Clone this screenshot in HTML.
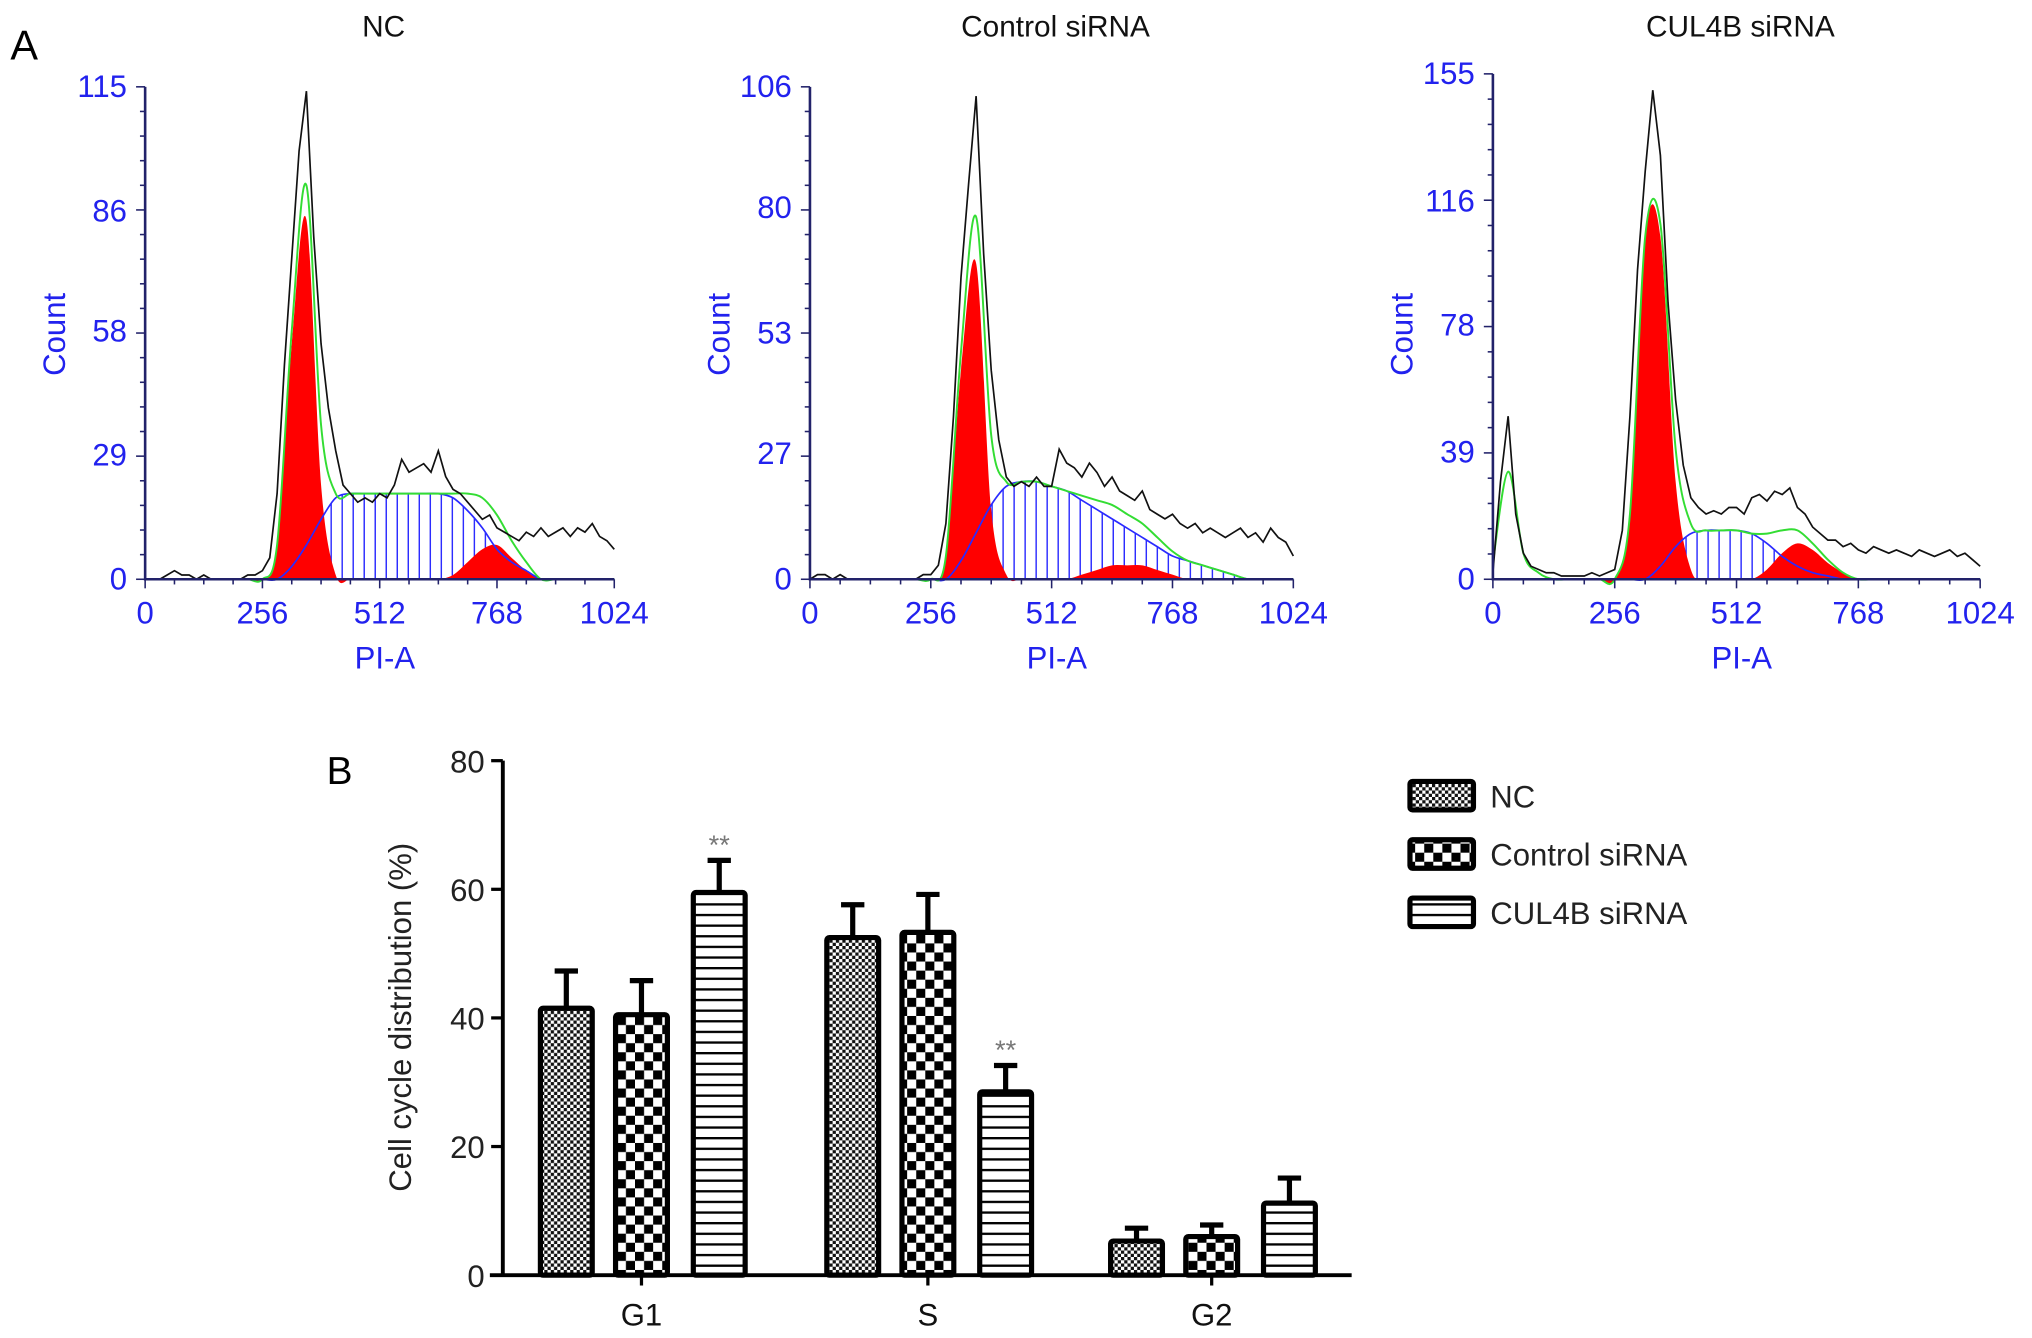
<!DOCTYPE html>
<html><head><meta charset="utf-8"><style>
html,body{margin:0;padding:0;background:#fff;}
svg{display:block;font-family:"Liberation Sans",Arial,sans-serif;}
</style></head><body>
<svg id="fig" width="2032" height="1338" viewBox="0 0 1568 1032.5" preserveAspectRatio="none" xmlns="http://www.w3.org/2000/svg">
<defs>
<pattern id="pFine" width="5" height="5" patternUnits="userSpaceOnUse"><rect width="5" height="5" fill="#fff"/><rect width="2.5" height="2.5" fill="#111"/><rect x="2.5" y="2.5" width="2.5" height="2.5" fill="#111"/></pattern>
<pattern id="pChk" width="14" height="14" patternUnits="userSpaceOnUse"><rect width="14" height="14" fill="#fff"/><rect width="7" height="7" fill="#000"/><rect x="7" y="7" width="7" height="7" fill="#000"/></pattern>
<pattern id="pHor" width="10" height="8.2" patternUnits="userSpaceOnUse"><rect width="10" height="8.2" fill="#fff"/><rect y="0" width="10" height="1.8" fill="#000"/></pattern>
<pattern id="pVert" width="8.5" height="10" patternUnits="userSpaceOnUse"><rect width="8.5" height="10" fill="none"/><rect x="0" width="1.1" height="10" fill="#2a2aff"/></pattern>
</defs>
<text x="8" y="46" font-size="32">A</text>
<text x="252" y="605" font-size="30">B</text>
<g id="hists"></g>
<g id="bars"></g>
</svg>
<script>
// ---- Panel A data (counts; black at 16-channel steps, fits at 32-channel steps) ----
const ncBlack=[0,0,0,1,2,1,1,0,1,0,0,0,0,0,1,1,2,5,20,50,75,100,114,80,55,40,30,22,20,18,19,18,20,19,22,28,25,26,27,25,30,24,21,20,18,16,14,15,12,11,10,9,11,10,12,10,11,12,10,12,11,13,10,9,7];
const ctBlack=[0,1,1,0,1,0,0,0,0,0,0,0,0,0,0,1,1,3,12,35,65,85,104,70,45,30,22,20,21,20,22,20,20,28,25,24,22,25,23,20,22,19,18,17,19,15,14,13,14,12,11,12,10,11,10,9,10,11,9,10,8,11,9,8,5];
const cuBlack=[2,30,50,20,8,4,3,2,2,1,1,1,1,2,1,2,3,15,50,95,125,150,130,85,55,35,25,22,20,21,20,22,22,20,25,26,24,27,26,28,22,20,16,14,12,12,10,11,9,8,10,9,8,9,8,7,9,8,7,8,9,7,8,6,4];
const ncG1=[0,0,0,0,0,0,0,0,0,8,55,84,22,1,0,0,0,0,0,0,0,0,0,0,0,0,0,0,0,0,0,0,0];
const ncS=[0,0,0,0,0,0,0,0,0,0,3,8,14,19,20,20,20,20,20,20,20,19,16,12,7,4,2,0,0,0,0,0,0];
const ncG2=[0,0,0,0,0,0,0,0,0,0,0,0,0,0,0,0,0,0,0,0,0,1,4,7,8,5,2,0,0,0,0,0,0];
const ncDeb=[0,0,0,0,0,0,0,0,0,0,0,0,0,0,0,0,0,0,0,0,0,0,0,0,0,0,0,0,0,0,0,0,0];
const ctG1=[0,0,0,0,0,0,0,0,0,5,45,68,15,1,0,0,0,0,0,0,0,0,0,0,0,0,0,0,0,0,0,0,0];
const ctS=[0,0,0,0,0,0,0,0,0,0,4,10,16,20,21,21,20,19,17,15,13,11,9,7,5,4,3,2,1,0,0,0,0];
const ctG2=[0,0,0,0,0,0,0,0,0,0,0,0,0,0,0,0,0,0,1,2,3,3,3,2,1,0,0,0,0,0,0,0,0];
const ctDeb=[0,0,0,0,0,0,0,0,0,0,0,0,0,0,0,0,0,0,0,0,0,0,0,0,0,0,0,0,0,0,0,0,0];
const cuG1=[0,0,0,0,0,0,0,0,0,20,105,105,30,3,0,0,0,0,0,0,0,0,0,0,0,0,0,0,0,0,0,0,0];
const cuS=[0,0,0,0,0,0,0,0,0,0,0,4,10,14,15,15,15,14,11,7,4,2,1,0,0,0,0,0,0,0,0,0,0];
const cuG2=[0,0,0,0,0,0,0,0,0,0,0,0,0,0,0,0,0,0,3,8,11,9,5,2,0,0,0,0,0,0,0,0,0];
const cuDeb=[5,33,8,2,0,0,0,0,0,0,0,0,0,0,0,0,0,0,0,0,0,0,0,0,0,0,0,0,0,0,0,0,0];
const ncTicks=[0,29,58,86,115];
const ctTicks=[0,27,53,80,106];
const cuTicks=[0,39,78,116,155];
const xTicks=[0,256,512,768,1024];
const histTitles=["NC","Control siRNA","CUL4B siRNA"];

// ---- Panel B data ----
const phases=["G1","S","G2"];
const groups=["NC","Control siRNA","CUL4B siRNA"];
const ncVals=[41.5,52.5,5.3];
const ctVals=[40.5,53.3,6.0];
const cuVals=[59.5,28.5,11.2];
const ncErr=[5.8,5.1,2.0];
const ctErr=[5.3,5.9,1.8];
const cuErr=[5.0,4.1,3.9];
const sigMarks=["","",""];
const cuSig=["**","**",""];
const bTicks=[0,20,40,60,80];

const NS="http://www.w3.org/2000/svg";
function mk(tag,attrs,parent){const e=document.createElementNS(NS,tag);for(const k in attrs)e.setAttribute(k,attrs[k]);if(parent)parent.appendChild(e);return e;}
function smooth(pts){let d="M"+pts[0][0]+","+pts[0][1];for(let i=0;i<pts.length-1;i++){const p0=pts[Math.max(0,i-1)],p1=pts[i],p2=pts[i+1],p3=pts[Math.min(pts.length-1,i+2)];const c1x=p1[0]+(p2[0]-p0[0])/6,c1y=p1[1]+(p2[1]-p0[1])/6,c2x=p2[0]-(p3[0]-p1[0])/6,c2y=p2[1]-(p3[1]-p1[1])/6;d+=" C"+c1x+","+c1y+" "+c2x+","+c2y+" "+p2[0]+","+p2[1];}return d;}

const panels=[
 {x0:112,x1:474,yTop:67,ticks:ncTicks,black:ncBlack,g1:ncG1,s:ncS,g2:ncG2,deb:ncDeb},
 {x0:625,x1:998,yTop:67,ticks:ctTicks,black:ctBlack,g1:ctG1,s:ctS,g2:ctG2,deb:ctDeb},
 {x0:1152,x1:1528,yTop:57,ticks:cuTicks,black:cuBlack,g1:cuG1,s:cuS,g2:cuG2,deb:cuDeb}
];
const hg=document.getElementById('hists');
const Y0=447;
panels.forEach((p,pi)=>{
  const g=mk('g',{},hg);
  
  
  const ymax=p.ticks[p.ticks.length-1];
  const X=c=>p.x0+(c/1024)*(p.x1-p.x0);
  const Y=v=>Y0-(v/ymax)*(Y0-p.yTop);
  const cx=(p.x0+p.x1)/2;
  const t=mk('text',{x:cx+3,y:28,'font-size':23,'text-anchor':'middle',fill:'#111'},g);t.textContent=histTitles[pi];
  
  const fitPts=arr=>arr.map((v,i)=>[X(i*32),Y(v)]);
  const area=arr=>smooth(fitPts(arr))+" L"+X(1024)+","+Y0+" L"+X(0)+","+Y0+" Z";
  const sp=mk('path',{d:area(p.s),fill:'url(#pVert)',stroke:'none'},g);
  
  const r1=mk('path',{d:area(p.g1),fill:'#ff0000'},g);
  
  const r2=mk('path',{d:area(p.g2),fill:'#ff0000'},g);
  
  const sl=mk('path',{d:smooth(fitPts(p.s)),fill:'none',stroke:'#2a2aff','stroke-width':1.3},g);
  
  const tot=p.g1.map((v,i)=>v+p.s[i]+p.g2[i]+p.deb[i]);
  const gl=mk('path',{d:smooth(fitPts(tot)),fill:'none',stroke:'#33dd33','stroke-width':1.5},g);
  
  const bl=mk('polyline',{points:p.black.map((v,i)=>X(i*16)+","+Y(v)).join(' '),fill:'none',stroke:'#111','stroke-width':1.3},g);
  
  const ax=mk('path',{d:"M"+p.x0+","+p.yTop+" L"+p.x0+","+Y0+" L"+p.x1+","+Y0,fill:'none',stroke:'#22226a','stroke-width':2},g);
  
  for(let k=0;k<=20;k++){const yy=Y0-k*(Y0-p.yTop)/20;mk('line',{x1:p.x0-(k%5==0?7:4),x2:p.x0,y1:yy,y2:yy,stroke:'#22226a','stroke-width':1.2},g);}
  for(let k=0;k<=16;k++){const xx=X(k*64);mk('line',{x1:xx,x2:xx,y1:Y0,y2:Y0+(k%4==0?7:4),stroke:'#22226a','stroke-width':1.2},g);}
  p.ticks.forEach(v=>{const tt=mk('text',{x:p.x0-14,y:Y(v)+8,'font-size':24,'text-anchor':'end',fill:'#2222ee'},g);tt.textContent=v;
    });
  xTicks.forEach(v=>{const tt=mk('text',{x:X(v),y:481,'font-size':24,'text-anchor':'middle',fill:'#2222ee'},g);tt.textContent=v;
    });
  const xl=mk('text',{x:cx+4,y:516,'font-size':24,'text-anchor':'middle',fill:'#2222ee'},g);xl.textContent="PI-A";
  
  const yl=mk('text',{x:0,y:0,'font-size':24,'text-anchor':'middle',fill:'#2222ee',transform:'translate('+(p.x0-62)+',258) rotate(-90)'},g);yl.textContent="Count";
  
});

// ---- Panel B ----
const bg=document.getElementById('bars');
const BX0=388,BX1=1043,BY0=984,BYT=587;
const by=v=>BY0-(v/80)*(BY0-BYT);
const catX=[495,716,935];
const offs=[-58,0,60];
const fills=['url(#pFine)','url(#pChk)','url(#pHor)'];
const vals=[ncVals,ctVals,cuVals],errs=[ncErr,ctErr,cuErr],sigs=[sigMarks,sigMarks,cuSig];
const bw=40;
phases.forEach((ph,ci)=>{
  groups.forEach((gname,gi)=>{
    const v=vals[gi][ci],e=errs[gi][ci];const cx=catX[ci]+offs[gi];
    const ey=by(v+e);
    const el=mk('path',{d:"M"+cx+","+by(v)+" L"+cx+","+ey+" M"+(cx-9)+","+ey+" L"+(cx+9)+","+ey,stroke:'#000','stroke-width':4,fill:'none'},bg);
    
    const r=mk('rect',{x:cx-bw/2,y:by(v),width:bw,height:BY0-by(v),fill:fills[gi],stroke:'#000','stroke-width':4,rx:2},bg);
    
    if(sigs[gi][ci]){const s=mk('text',{x:cx,y:ey-5,'font-size':21,'text-anchor':'middle',fill:'#777'},bg);s.textContent=sigs[gi][ci];
      }
  });
  const t=mk('text',{x:catX[ci],y:1023,'font-size':24,'text-anchor':'middle',fill:'#111'},bg);t.textContent=ph;
  
  mk('line',{x1:catX[ci],x2:catX[ci],y1:BY0,y2:BY0+8,stroke:'#000','stroke-width':2.5},bg);
});
const bax=mk('path',{d:"M"+BX0+","+BYT+" L"+BX0+","+BY0+" M378,"+BY0+" L"+BX1+","+BY0,stroke:'#000','stroke-width':3,fill:'none'},bg);

bTicks.forEach(v=>{mk('line',{x1:BX0-9,x2:BX0,y1:by(v),y2:by(v),stroke:'#000','stroke-width':2.5},bg);
  const t=mk('text',{x:BX0-14,y:by(v)+9,'font-size':24,'text-anchor':'end',fill:'#222'},bg);t.textContent=v;
  });
const byl=mk('text',{x:0,y:0,'font-size':24,'text-anchor':'middle',fill:'#222',transform:'translate(317,785) rotate(-90)'},bg);byl.textContent="Cell cycle distribution (%)";

groups.forEach((gname,gi)=>{
  const y=603+gi*45;
  const r=mk('rect',{x:1088,y:y,width:49,height:22,fill:fills[gi],stroke:'#000','stroke-width':4,rx:2},bg);
  
  const t=mk('text',{x:1150,y:y+20,'font-size':24,fill:'#222'},bg);t.textContent=gname;
  
});
</script>
</body></html>
